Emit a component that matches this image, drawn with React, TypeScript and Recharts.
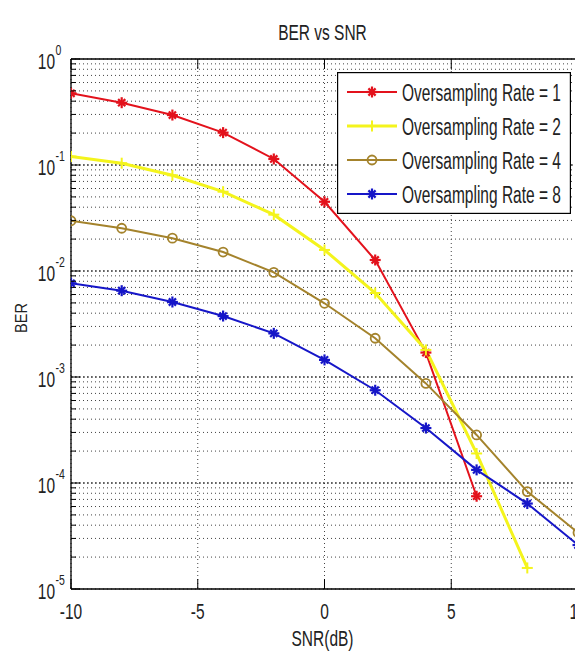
import React from 'react';
import { LineChart, Line, XAxis, YAxis, CartesianGrid, ReferenceLine, Customized, Legend } from 'recharts';

// ---------- data ----------
const snrDb = [-10, -8, -6, -4, -2, 0, 2, 4, 6, 8, 10];
const berRate1 = [0.475, 0.387, 0.296, 0.202, 0.114, 0.045, 0.0127, 0.0017, 7.5e-5];
const berRate2 = [0.12, 0.104, 0.08, 0.056, 0.034, 0.0158, 0.0062, 0.0018, 1.9e-4, 1.58e-5];
const berRate4 = [0.0298, 0.0253, 0.0204, 0.0151, 0.0097, 0.00496, 0.00232, 0.00087, 2.84e-4, 8.3e-5, 3.4e-5];
const berRate8 = [0.00766, 0.00652, 0.0051, 0.00376, 0.00258, 0.00145, 7.5e-4, 3.3e-4, 1.33e-4, 6.4e-5, 2.6e-5];
const seriesLabels = ['Oversampling Rate = 1', 'Oversampling Rate = 2', 'Oversampling Rate = 4', 'Oversampling Rate = 8'];
const xTickValues = [-10, -5, 0, 5, 10];
const yDecadeValues = [1e-5, 1e-4, 1e-3, 1e-2, 1e-1, 1];
const yMinorMultipliers = [1, 2, 3, 4, 5, 6, 7, 8, 9];
const titleText = 'BER vs SNR';
const xLabelText = 'SNR(dB)';
const yLabelText = 'BER';

const chartData = snrDb.map((snr, i) => ({
  snr,
  rate1: berRate1[i],
  rate2: berRate2[i],
  rate4: berRate4[i],
  rate8: berRate8[i],
}));

const yTickValues = yDecadeValues
  .slice(0, -1)
  .flatMap((d) => yMinorMultipliers.map((m) => Number((d * m).toPrecision(6))))
  .concat([1]);

// ---------- style ----------
const FONT = '"Liberation Sans", Arial, Helvetica, sans-serif';
const seriesStyle = [
  { key: 'rate1', color: '#e3121c', width: 2, marker: 'star' },
  { key: 'rate2', color: '#f4f41c', width: 3, marker: 'plus' },
  { key: 'rate4', color: '#a4832c', width: 2, marker: 'circle' },
  { key: 'rate8', color: '#1616c8', width: 2, marker: 'star' },
];

const CHART_W = 588;
const CHART_H = 652;
const MARGIN = { top: 59, right: 10, bottom: 33, left: 0 };
const Y_AXIS_W = 71;
const X_AXIS_H = 30;
const PLOT_TOP = MARGIN.top;
const PLOT_LEFT = MARGIN.left + Y_AXIS_W;
const PLOT_RIGHT = CHART_W - MARGIN.right;
const PLOT_CX = (PLOT_LEFT + PLOT_RIGHT) / 2;
const LEGEND_BOX = { left: 337, top: 72, width: 234, height: 142 };

function drawMarker(kind: string, cx: number, cy: number, color: string, key?: any) {
  if (kind === 'circle') {
    return <circle key={key} cx={cx} cy={cy} r={4.5} fill="none" stroke={color} strokeWidth={1.8} />;
  }
  const a = 5.5;
  const d = 3.6;
  return (
    <g key={key} stroke={color} strokeWidth={kind === 'plus' ? 2 : 2.2}>
      <line x1={cx - a} x2={cx + a} y1={cy} y2={cy} />
      <line x1={cx} x2={cx} y1={cy - a} y2={cy + a} />
      {kind === 'star' && (
        <>
          <line x1={cx - d} x2={cx + d} y1={cy - d} y2={cy + d} />
          <line x1={cx - d} x2={cx + d} y1={cy + d} y2={cy - d} />
        </>
      )}
    </g>
  );
}

const renderYTick = (props: any) => {
  const { x, y, payload } = props;
  const v = payload.value;
  const lg = Math.log10(v);
  const isMajor = Math.abs(lg - Math.round(lg)) < 1e-6;
  return (
    <g>
      <line x1={x} x2={x + (isMajor ? 9 : 5)} y1={y} y2={y} stroke="#000" strokeWidth={1} />
      {isMajor && (
        <>
          <text
            transform={`translate(${x - 16},${y + 9.5}) scale(1,1.4)`}
            textAnchor="end"
            fontSize={15.5}
            fontFamily={FONT}
            fill="#222"
          >
            10
          </text>
          <text
            transform={`translate(${x - 15.5},${y - 4}) scale(1,1.4)`}
            textAnchor="start"
            fontSize={10.5}
            fontFamily={FONT}
            fill="#222"
          >
            {String(Math.round(lg))}
          </text>
        </>
      )}
    </g>
  );
};

const renderXTick = (props: any) => {
  const { x, y, payload } = props;
  return (
    <g>
      <line x1={x} x2={x} y1={y} y2={y - 10} stroke="#000" strokeWidth={1} />
      <line x1={x} x2={x} y1={PLOT_TOP} y2={PLOT_TOP + 10} stroke="#000" strokeWidth={1} />
      <text
        transform={`translate(${x},${y + 30}) scale(1,1.38)`}
        textAnchor="middle"
        fontSize={15.5}
        fontFamily={FONT}
        fill="#222"
      >
        {String(payload.value)}
      </text>
    </g>
  );
};

const makeDot = (kind: string, color: string) => (p: any) => {
  if (p.cx == null || p.cy == null || !isFinite(p.cy)) return <g key={`e${p.index}`} />;
  return drawMarker(kind, p.cx, p.cy, color, `m${p.index}`);
};

const Overlay = () => (
  <g fontFamily={FONT}>
    <text transform={`translate(${PLOT_CX - 2},40) scale(1,1.42)`} textAnchor="middle" fontSize={15.5} fill="#222">
      {titleText}
    </text>
    <text transform={`translate(${PLOT_CX - 2},646) scale(1,1.4)`} textAnchor="middle" fontSize={15.5} fill="#222">
      {xLabelText}
    </text>
    <text transform={`translate(27,318) rotate(-90) scale(1,1.15)`} textAnchor="middle" fontSize={14.5} fill="#222">
      {yLabelText}
    </text>
  </g>
);

const LegendContent = () => (
  <svg width={LEGEND_BOX.width} height={LEGEND_BOX.height} style={{ display: 'block' }}>
    <rect x={0.6} y={0.6} width={LEGEND_BOX.width - 1.2} height={LEGEND_BOX.height - 1.2} fill="#fff" stroke="#000" strokeWidth={1.2} />
    {seriesStyle.map((s, i) => {
      const cy = 20 + i * 34;
      return (
        <g key={s.key}>
          <line x1={10} x2={60} y1={cy} y2={cy} stroke={s.color} strokeWidth={s.width} />
          {drawMarker(s.marker, 35, cy, s.color)}
          <text transform={`translate(65,${cy + 8.5}) scale(1,1.5)`} fontSize={15.5} fontFamily={FONT} fill="#222">
            {seriesLabels[i]}
          </text>
        </g>
      );
    })}
  </svg>
);

export default function App() {
  return (
    <div style={{ position: 'fixed', left: 0, top: 0, width: 575, height: 652, overflow: 'hidden', background: '#fff' }}>
      <LineChart width={CHART_W} height={CHART_H} data={chartData} margin={MARGIN}>
        <CartesianGrid stroke="#444" strokeDasharray="1 3" strokeWidth={1} />
        {yDecadeValues.slice(1, -1).map((d) => (
          <ReferenceLine key={`dec${d}`} y={d} stroke="#222" strokeDasharray="2 2" strokeWidth={1} />
        ))}
        <XAxis
          type="number"
          dataKey="snr"
          domain={[-10, 10]}
          ticks={xTickValues}
          interval={0}
          height={X_AXIS_H}
          tickLine={false}
          tickSize={0}
          tickMargin={0}
          axisLine={{ stroke: '#000', strokeWidth: 1.3 }}
          tick={renderXTick}
          allowDataOverflow
        />
        <YAxis
          type="number"
          scale="log"
          domain={[1e-5, 1]}
          ticks={yTickValues}
          interval={0}
          width={Y_AXIS_W}
          tickLine={false}
          tickSize={0}
          tickMargin={0}
          axisLine={{ stroke: '#000', strokeWidth: 1.3 }}
          tick={renderYTick}
          allowDataOverflow
        />
        <ReferenceLine y={1} stroke="#000" strokeWidth={1.3} />
        <ReferenceLine x={10} stroke="#000" strokeWidth={1.3} />
        {seriesStyle.map((s) => (
          <Line
            key={s.key}
            type="linear"
            dataKey={s.key}
            stroke={s.color}
            strokeWidth={s.width}
            dot={makeDot(s.marker, s.color)}
            activeDot={false}
            isAnimationActive={false}
          />
        ))}
        <Legend
          layout="vertical"
          align="center"
          verticalAlign="middle"
          content={LegendContent}
          wrapperStyle={{
            position: 'absolute',
            left: LEGEND_BOX.left,
            top: LEGEND_BOX.top,
            width: LEGEND_BOX.width,
            height: LEGEND_BOX.height,
            margin: 0,
            padding: 0,
          }}
        />
        <Customized component={Overlay} />
      </LineChart>
    </div>
  );
}
